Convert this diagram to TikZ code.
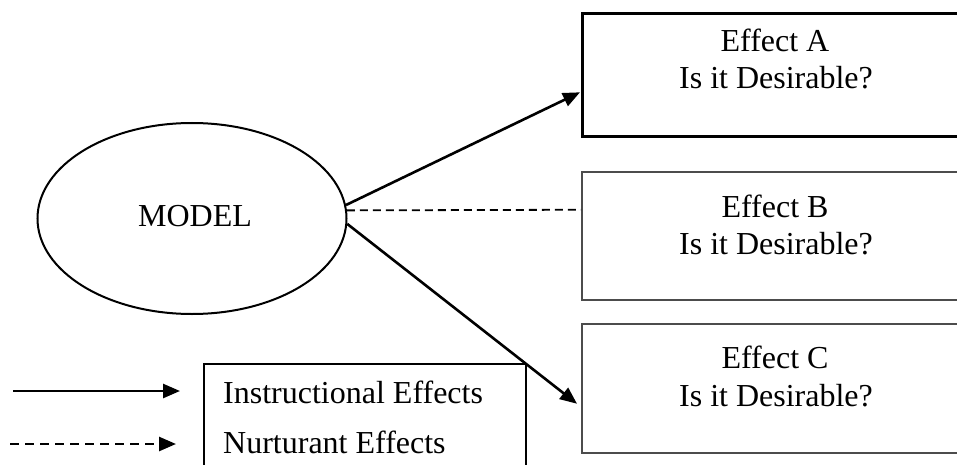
\documentclass[tikz,border=0pt]{standalone}
\usepackage{fontspec}
\setmainfont{Liberation Serif}
\usetikzlibrary{shapes.geometric,arrows.meta}
\begin{document}
\begin{tikzpicture}[x=1pt,y=-1pt,
  txt/.style={anchor=base,inner sep=0pt,font=\fontsize{32}{37}\selectfont},
  boxthick/.style={draw=black,line width=2.6pt,anchor=north west,inner sep=0pt},
  boxthin/.style={draw=black!70,line width=1.5pt,anchor=north west,inner sep=0pt},
  conn/.style={line width=2.6pt,-{Triangle[length=17pt,width=14pt]}},
  dconn/.style={line width=1.8pt,dash pattern=on 8pt off 5pt},
  dlegend/.style={line width=2.6pt,dash pattern=on 9pt off 6pt,-{Triangle[length=17pt,width=14pt]}}]
\useasboundingbox (0,0) rectangle (957,465);
\begin{scope}
\clip (0,0) rectangle (957,465);
% model ellipse
\node[ellipse,draw,line width=2pt,minimum width=309pt,minimum height=191pt,inner sep=0pt] (model) at (192,218.5) {};
\node[txt] (modeltxt) at (195,226) {MODEL};
% effect boxes
\node[boxthick,minimum width=430pt,minimum height=123pt] (boxA) at (581,12) {};
\node[boxthin,minimum width=430pt,minimum height=128pt] (boxB) at (581,171) {};
\node[boxthin,minimum width=430pt,minimum height=129pt] (boxC) at (581,323) {};
\node[txt] (a1) at (775,52) {Effect A};
\node[txt] (a2) at (776,89) {Is it Desirable?};
\node[txt] (b1) at (775,217) {Effect B};
\node[txt] (b2) at (776,254) {Is it Desirable?};
\node[txt] (c1) at (775,368) {Effect C};
\node[txt] (c2) at (776,406) {Is it Desirable?};
% connectors
\draw[conn] (model.5.6) -- ([xshift=-1pt,yshift=-17.5pt]boxA.west);
\draw[dconn] (model.3.3) -- ([yshift=26pt]boxB.west);
\draw[conn] (model.-2) -- ([xshift=-4pt,yshift=-15.5pt]boxC.west);
% legend
\node[draw,line width=2pt,anchor=north west,inner sep=0pt,minimum width=322pt,minimum height=140pt] (legend) at (203,363) {};
\node[txt,anchor=base west] (l1) at (223,403) {Instructional Effects};
\node[txt,anchor=base west] (l2) at (223,453) {Nurturant Effects};
\coordinate (s1) at (13,391);
\coordinate (e1) at (180,391);
\coordinate (s2) at (10,444);
\coordinate (e2) at (176,444);
\draw[conn] (s1) -- (e1);
\draw[dlegend] (s2) -- (e2);
\end{scope}
\end{tikzpicture}
\end{document}
